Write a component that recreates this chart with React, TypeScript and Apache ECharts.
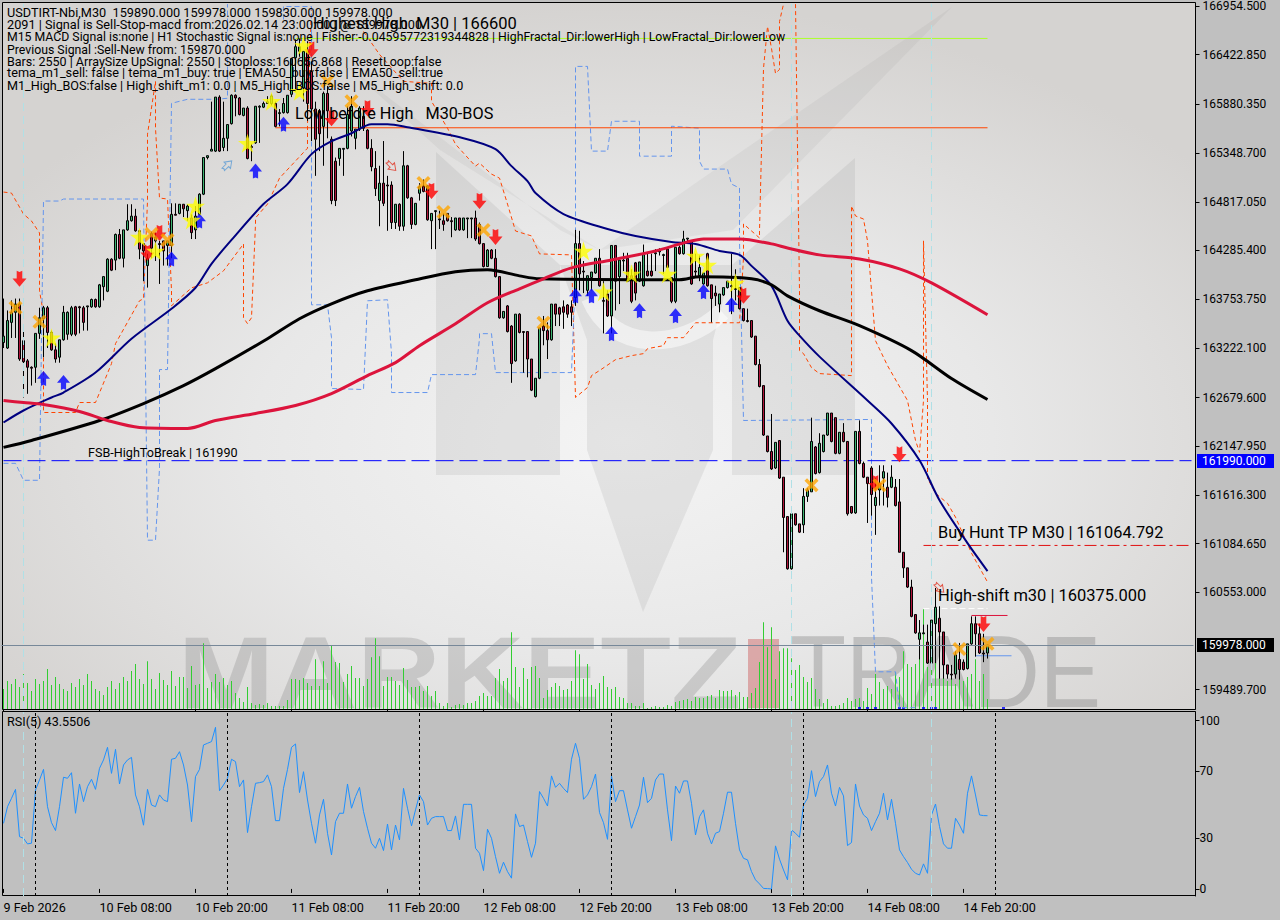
import React, { useEffect, useRef } from "react";
import * as echarts from "echarts";

const tickLabels = ["9 Feb 2026","10 Feb 08:00","10 Feb 20:00","11 Feb 08:00","11 Feb 20:00","12 Feb 08:00","12 Feb 20:00","13 Feb 08:00","13 Feb 20:00","14 Feb 08:00","14 Feb 20:00"];
const priceTicks = [166954.5,166422.85,165880.35,165348.7,164817.05,164285.4,163753.75,163222.1,162679.6,162147.95,161616.3,161084.65,160553,159489.7];
const rsiTicks = [0,30,70,100];

const opens = [163280,163220,163500,163610,163700,163300,163080,163010,163010,163380,
163540,163660,163390,163200,163120,163310,163370,163370,163670,163670,
163660,163670,163670,163750,163670,163890,163840,164190,164180,164460,
164200,164510,164610,164660,164500,164360,164120,164470,164390,164360,
164390,164340,164340,164680,164690,164790,164720,164640,164510,164680,
164900,165300,165370,165370,165960,165410,165510,165670,165980,165950,
165760,165840,165420,165460,165850,165850,165890,165890,165890,165780,
165790,165790,165990,166390,166460,166060,166460,166240,165830,165810,
165640,166000,165500,165260,165290,165390,165400,165590,165510,165610,
165750,165600,165400,165180,164830,165020,165000,165000,164590,164790,
164550,165210,164860,164570,164910,164990,164990,164610,164710,164630,
164610,164690,164610,164510,164640,164510,164630,164630,164640,164570,
164360,164110,164290,164200,164000,163550,163680,163460,163080,163590,
163400,163400,163100,162690,162890,163460,163410,163310,163700,163660,
163670,163690,163670,163770,164360,164060,163850,163990,164040,164200,
163740,163810,163570,164340,164000,164170,164200,164010,164150,163950,
163900,164060,164060,164250,164270,164230,164300,163990,163730,164320,
164250,164410,164390,164060,164010,163920,164250,163910,163820,163700,
163800,163880,163890,163860,163880,163650,163520,163520,163350,163040,
162810,162260,162090,161910,162210,161810,161380,160810,161410,161300,
161290,161600,161650,162140,161860,162090,162270,162510,162460,162070,
162300,162200,161490,161420,162310,161960,161810,161910,161500,161670,
161800,161700,161700,161700,161540,160990,160820,160610,160310,160040,
160100,160010,159780,160210,160270,160120,159760,159660,159660,159820,
159790,159720,159990,160210,160100,159890,159890];

const closes = [163350,163520,163610,163700,163100,163070,163010,163000,163380,163550,
163660,163390,163200,163100,163310,163610,163610,163660,163370,163660,
163500,163680,163750,163670,163910,164000,164190,164070,164460,164200,
164510,164610,164660,164500,164300,164280,164200,164310,164430,164350,
164280,164390,164680,164670,164790,164740,164770,164480,164660,164900,
165300,165320,165390,165960,165370,165510,165660,165980,165950,165770,
165840,165290,165410,165860,165860,165890,165910,165970,165640,165790,
165890,165980,166380,166510,166510,166460,165890,165830,165500,165560,
166000,165810,164830,164830,165400,165400,165770,165860,165610,165840,
165620,165400,165200,164960,165020,164800,164990,164590,164790,164550,
165210,164860,164570,164800,164980,164930,164620,164690,164720,164620,
164570,164610,164600,164640,164510,164640,164640,164640,164410,164360,
164110,164290,164200,164000,163550,163620,163400,163050,163590,163390,
163390,163100,162760,162890,163440,163410,163310,163700,163590,163590,
163610,163590,163610,164360,164030,164050,164010,164050,164200,163900,
163730,163570,164340,163950,164180,164180,163950,163730,163820,164160,
164240,164010,164010,164260,164280,164240,164100,163730,164320,164250,
164410,164420,163920,164050,164100,164040,163900,163760,163790,163810,
163880,163950,163900,163870,163650,163520,163510,163340,163040,162800,
162270,162090,161900,162190,161800,161370,160810,161410,161290,161210,
161600,161670,162200,161850,162180,162270,162510,162200,162070,162300,
162200,161410,161420,162310,161960,161810,161740,161620,161590,161740,
161870,161590,161810,161500,160990,160820,160610,160290,160110,160110,
160110,159780,160250,160390,160120,159760,159660,159650,159870,159710,
159710,159990,160210,160100,159890,159880,159978];

const highs = [163760,163630,163740,163760,163760,163430,163100,163020,163380,163660,
163680,163680,163410,163270,163310,163680,163620,163680,163680,163680,
163680,163680,163760,163760,163920,164000,164200,164200,164470,164520,
164510,164790,164790,164740,164500,164360,164250,164490,164480,164390,
164390,164390,164800,164800,164790,164790,164790,164680,164770,164910,
165300,165320,165910,165960,165980,165910,165660,165990,165990,165960,
165840,165860,165450,165860,165870,165910,165970,165990,165910,165830,
165950,165980,166380,166590,166600,166460,166570,166350,165910,165830,
166020,166080,165530,165300,165400,165400,165860,165970,165610,165860,
165860,165610,165500,165370,165210,165480,165100,165040,164790,164800,
165370,165220,164870,164800,165020,165060,165000,164690,164720,164720,
164690,164690,164650,164640,164640,164640,164640,164640,164720,164590,
164360,164300,164300,164300,164000,163620,163690,163470,163590,163600,
163400,163400,163100,162890,163440,163570,163500,163700,163700,163670,
163740,163700,163740,164510,164500,164170,164010,164050,164200,164300,
163950,163850,164340,164340,164180,164260,164260,164080,164160,164160,
164350,164260,164250,164300,164310,164250,164310,163990,164320,164340,
164500,164420,164390,164250,164230,164040,164260,163910,163900,163810,
163880,163950,164250,164080,163880,163650,163650,163520,163350,163100,
162810,162260,162500,162190,162210,161810,161380,161410,161410,161300,
161690,161690,162460,162150,162290,162270,162510,162510,162460,162300,
162400,162200,161490,162310,162430,161980,161810,161930,161800,161940,
161940,161860,161940,161790,161790,160990,160820,160690,160310,160250,
160200,160200,160250,160600,160400,160120,159760,159760,159910,160000,
159820,159990,160290,160290,160210,160100,159978];

const lows = [163220,163210,163330,163330,163080,162680,162720,162810,162840,163320,
163120,163220,163190,163060,163060,163300,163310,163350,163350,163380,
163410,163410,163660,163660,163660,163740,163830,164060,164070,164190,
164100,164500,164600,164490,164190,163950,163880,164200,164170,163920,
164120,164120,164200,164670,164680,164650,164610,164410,164410,164670,
164890,165280,165370,165360,165360,165370,165370,165660,165750,165760,
165750,165280,165260,165450,165460,165840,165890,165870,165630,165640,
165780,165780,165960,166020,166400,165910,165700,165480,165100,165370,
165210,165510,164790,164770,165210,165100,165390,165530,165390,165590,
165590,165390,165150,164880,164550,164770,164500,164520,164520,164500,
164500,164850,164520,164560,164830,164920,164610,164300,164300,164520,
164500,164600,164430,164500,164500,164500,164420,164420,164390,164350,
164100,164110,164190,163990,163540,163540,163390,162840,163070,163380,
162950,162900,162750,162680,162880,163250,163100,163300,163460,163460,
163430,163550,163460,163680,163850,163820,163790,163850,164030,163890,
163380,163560,163380,163630,163700,164060,163940,163710,163740,163940,
163890,164000,164000,164060,164230,164030,164090,163710,163710,164240,
164240,164360,163910,163990,163950,163910,163890,163500,163680,163610,
163790,163870,163590,163740,163640,163510,163500,163330,163030,162790,
162260,162080,161890,161900,161790,160990,160800,160800,161280,161200,
161200,161540,161650,161840,161850,162080,162260,162190,162060,162060,
162190,161390,161410,161410,161950,161800,161310,161390,161180,161500,
161500,161480,161690,161490,160990,160710,160600,160280,160100,159820,
160100,159770,159770,159780,159610,159610,159610,159600,159610,159600,
159700,159710,159980,159850,159880,159790,159830];

const volumes = [20,28,25,30,22,35,26,18,30,25,28,40,24,32,25,20,18,26,22,30,
24,35,28,20,18,14,22,28,20,26,32,28,38,45,30,25,48,30,20,36,
29,24,38,23,32,32,21,43,24,25,
66,21,27,35,27,31,24,28,16,11,
7,22,6,4,5,4,6,3,3,3,
3,9,30,30,29,31,26,23,50,23,
48,26,64,47,46,27,35,43,31,31,
23,30,52,71,53,23,32,32,28,24,
41,29,22,22,23,18,23,13,18,6,
3,6,2,4,5,4,6,6,8,13,
16,13,13,31,40,28,31,77,42,22,
41,30,42,43,31,11,19,22,26,23,
19,20,28,59,55,30,45,24,20,26,
33,22,20,22,12,11,6,6,3,3,
6,1,2,3,2,2,4,3,7,8,
9,10,8,12,11,11,13,14,11,19,
18,18,19,14,17,12,12,16,21,47,
87,62,82,30,58,61,61,51,39,44,
32,27,31,20,10,6,10,3,3,4,
6,11,8,10,11,8,21,15,35,27,
20,23,20,37,32,58,45,42,45,75,
100,42,55,88,70,48,28,32,25,32,
28,32,35,50,28,35,10];

const rsiValues = [39.0,48.9,53.9,59.2,31.1,30.1,26.8,27.2,58.8,64.8,
71.1,48.9,39.4,34.7,48.9,66.4,65.8,69.1,45.0,62.4,
51.9,60.8,65.2,59.2,71.7,76.7,84.2,68.7,83.0,62.4,
73.7,76.7,78.2,55.9,48.9,37.9,59.2,49.9,48.9,55.9,
52.9,51.9,77.1,77.7,81.6,73.7,61.8,40.0,66.8,71.1,
85.6,86.6,87.6,96.1,58.4,61.8,65.8,77.1,75.7,60.8,
64.8,33.5,48.9,62.8,63.2,63.8,67.8,60.8,40.6,40.6,
59.8,71.1,84.2,86.2,57.3,69.7,52.9,39.0,27.2,44.0,
53.3,33.1,20.2,40.0,45.0,45.0,62.4,48.0,54.9,60.4,
46.0,36.1,27.2,24.2,30.1,22.8,38.6,23.2,38.0,29.1,
59.8,48.0,37.5,47.0,55.9,51.9,38.0,42.0,43.0,43.0,
43.0,34.7,34.7,43.4,29.1,50.3,50.3,50.3,24.2,21.2,
10.9,35.5,30.1,19.2,9.3,15.9,10.3,6.4,44.6,37.1,
38.0,28.2,18.8,27.2,57.9,53.9,49.3,67.2,60.4,62.8,
59.8,57.3,77.1,86.6,77.7,53.3,55.9,60.8,68.3,45.4,
39.4,29.5,67.2,51.9,58.4,58.4,47.0,36.1,43.0,49.9,
66.4,51.3,53.9,64.8,68.3,68.3,47.0,28.7,61.2,56.9,
64.2,64.2,50.9,32.1,43.0,47.0,33.1,26.8,33.1,34.1,
45.0,57.5,57.5,39.0,23.2,18.2,17.3,10.3,5.4,3.0,
0.3,0.2,0.0,25.6,17.7,11.3,5.4,35.1,33.1,30.7,
49.9,53.9,70.3,54.9,63.8,66.8,73.7,56.9,49.3,60.4,
55.3,25.8,27.6,62.4,49.3,44.0,42.0,34.7,40.0,45.0,
56.9,41.0,53.3,39.0,23.2,19.2,15.7,11.7,9.3,8.3,
14.9,9.3,44.0,50.5,37.1,26.8,24.2,24.2,42.0,38.0,
33.1,56.9,67.2,55.9,44.0,43.6,43.55];

const emaNavy = [[0,162407],[5,162538],[12,162680],[15,162734],[23,162952],[32,163322],[42,163649],[48,163878],[52,164139],[57,164400],[65,164792],[71,165010],[77,165337],[82,165478],[87,165565],[92,165663],[96,165663],[101,165631],[115,165511],[123,165391],[127,165206],[131,165043],[133,164912],[140,164683],[151,164520],[158,164444],[167,164379],[173,164357],[179,164280],[184,164237],[187,164117],[192,163899],[196,163518],[199,163355],[204,163126],[216,162647],[222,162396],[229,161994],[234,161558],[241,161090],[246,160785]];
const emaBlack = [[0,162135],[7,162211],[24,162429],[35,162614],[45,162810],[53,162995],[66,163322],[74,163540],[82,163703],[91,163845],[103,163965],[113,164052],[121,164074],[129,164008],[134,163976],[169,163965],[174,163997],[187,163976],[192,163910],[196,163790],[204,163627],[214,163464],[227,163192],[237,162887],[246,162658]];
const emaCrimson = [[0,162647],[5,162625],[10,162603],[19,162527],[26,162429],[34,162353],[46,162342],[53,162429],[63,162505],[73,162593],[82,162723],[91,162919],[98,163061],[104,163246],[113,163485],[121,163714],[129,163867],[135,163976],[142,164095],[152,164182],[163,164280],[171,164379],[175,164411],[184,164411],[192,164357],[196,164313],[204,164237],[214,164193],[224,164085],[232,163932],[246,163584]];

const orangeA = [[0,164923],[2,164912],[5,164683],[7,164607],[9,164477],[9,163845],[10,163594],[10,162516],[18,162516],[19,162625],[23,162625],[27,163050],[28,163268],[34,163736],[35,163758],[36,164825],[36,165555],[38,166132],[38,165620],[39,164858],[41,164847],[42,163845],[42,163682],[47,163877],[51,163932],[55,164063],[60,164357],[60,163551],[61,163486],[62,163551],[63,164575],[63,164640],[66,164792],[69,165075],[76,165402],[76,165664],[77,166970]];
const orangeB = [[90,166676],[94,166426],[100,166132],[107,166110],[107,165914],[111,165620],[113,165446],[115,165348],[118,165206],[119,165239],[122,165119],[124,165075],[126,164792],[128,164498],[132,164444],[134,164248],[142,164237],[143,162680],[146,162789],[147,162919],[149,162974],[153,163093],[157,163137],[160,163159],[161,163213],[165,163246],[166,163333],[170,163333],[173,163496],[184,163496],[185,164204],[185,164575],[189,164422],[189,164498],[190,166273],[191,166731],[192,166491],[193,166219],[194,166262],[194,166785],[195,166975]];
const orangeC = [[198,166975],[199,163845],[199,163192],[200,163159],[202,163006],[204,162941],[212,162919],[212,164771],[213,164662],[215,164629],[216,164390],[218,163300],[221,163028],[226,162647],[228,162211],[229,162081],[230,162647],[230,164390],[231,162647],[231,161798],[233,161634],[236,161525],[238,161373],[242,160981],[246,160665]];

const blueA = [[0,161961],[3,161961],[5,161776],[9,161776],[10,164825],[14,164825],[15,164847],[35,164847],[36,161122],[38,161122],[39,161906],[39,162985],[41,162985],[42,165892],[46,165936],[53,165936],[56,165947],[56,166975]];
const blueB = [[70,166807],[70,166949],[77,166949],[77,163692],[81,163692],[82,163333],[82,162778],[90,162767],[91,163736],[96,163747],[97,163159],[97,162734],[106,162734],[107,162930],[118,162930],[119,163322],[119,163377],[122,163377],[123,162952],[142,162952],[143,164030],[143,166295],[146,166295],[147,165370],[151,165370],[152,165696],[159,165696],[159,165315],[167,165315],[167,165642],[174,165620],[174,165261],[175,165174],[181,165174],[182,165010],[184,164967],[184,164390],[185,162429],[217,162440],[217,160720],[218,159685],[223,159685],[224,159293],[228,159293]];

const highestHighLine = [[73,166600],[246,166600]];
const lowBeforeLine = [[68,165625],[246,165625]];
const buyHuntLine = [[230,161064.792],[297,161064.792]];
const highShiftLine = [[230,160375],[246,160375]];
const crimsonShort = [[242,160300],[251,160300]];
const blueShort = [[243,159860],[252,159860]];
const breakLine = [[0,161990],[297,161990]];
const bidPrice = 159978;

const redArrows = [[4,163976],[36,164259],[39,164477],[77,166480],[82,165729],[91,165838],[107,164934],[119,164825],[123,164433],[185,163790],[218,161743],[224,162059],[245,160208]];
const blueArrows = [[10,162887],[15,162843],[42,164193],[49,164607],[63,165152],[70,165664],[143,163790],[147,163790],[152,163377],[159,163627],[168,163573],[175,163834],[182,163692]];
const stars = [[12,163333],[34,164433],[38,164280],[48,164771],[47,164618],[61,165457],[67,165914],[74,166023],[75,166524],[145,164280],[150,163834],[157,164030],[166,164030],[173,164226],[176,164128],[183,163932]];
const crosses = [[3,163660],[9,163507],[37,164466],[41,164400],[81,166132],[87,165914],[105,165021],[110,164705],[120,164509],[135,163496],[202,161721],[219,161721],[239,159935],[246,159990]];
const hollowBlue = [[56,165217]];
const hollowRed = [[97,165206],[234,160600]];
const blueTicks = [[214,1],[216,1],[218,1],[224,1],[225,1],[230,1],[232,1],[233,1],[250,1]];

const cyanVerticals = [5,197,232];
const blackVerticals = [8,56,104,152,200,248];

const headerLines = [
  "USDTIRT-Nbi,M30  159890.000 159978.000 159830.000 159978.000",
  "2091 | Signal is Sell-Stop-macd from:2026.02.14 23:00:00 | @ 159978.000",
  "M15 MACD Signal is:none | H1 Stochastic Signal is:none | Fisher:-0.04595772319344828 | HighFractal_Dir:lowerHigh | LowFractal_Dir:lowerLow",
  "Previous Signal :Sell-New from: 159870.000",
  "Bars: 2550 | ArraySize UpSignal: 2550 | Stoploss:160656.868 | ResetLoop:false",
  "tema_m1_sell: false | tema_m1_buy: true | EMA50_buy:false | EMA50_sell:true",
  "M1_High_BOS:false | High_shift_m1: 0.0 | M5_High_BOS:false | M5_High_shift: 0.0",
];
const headerY = [13, 25, 37, 50, 62, 73, 86];
const headerScale = [1.06, 1.06, 1.023, 1.025, 1.043, 1.058, 1.05];

const FONT = "Roboto";
const STAR = "path://M50 0 L61 35 L98 35 L68 57 L79 91 L50 70 L21 91 L32 57 L2 35 L39 35 Z";
const DOWN = "path://M30 0 L50 8 L70 0 V48 H100 L50 100 L0 48 H30 Z";
const UP = "path://M50 0 L100 52 H70 V100 L50 92 L30 100 V52 H0 Z";
const CROSS = "path://M18 0 L50 32 L82 0 L100 18 L68 50 L100 82 L82 100 L50 68 L18 100 L0 82 L32 50 L0 18 Z";

function seg(name: string, data: number[][], color: string, width: number, dash?: any, z = 3, smooth: any = false) {
  return {
    name, type: "line", xAxisIndex: 0, yAxisIndex: 0, data, symbol: "none", showSymbol: false, silent: true, z, smooth,
    lineStyle: { color, width, type: dash || "solid" },
  };
}
function marks(name: string, data: number[][], symbol: string, size: any, color: string, extra: any = {}) {
  return {
    name, type: "scatter", xAxisIndex: 0, yAxisIndex: 0, data, symbol, symbolSize: size, silent: true, z: 6,
    itemStyle: { color, ...(extra.itemStyle || {}) }, symbolRotate: extra.rotate || 0,
  };
}
function label(text: string, x: number, y: number, size = 16, scaleX = 1, extra: any = {}) {
  return {
    type: "text", x, y, z: 20, silent: true, scaleX,
    style: { text, fill: "#000", font: `${size}px ${FONT}`, verticalAlign: "middle", align: "left", ...extra },
  };
}

export default function App() {
  const ref = useRef<HTMLDivElement>(null);
  useEffect(() => {
    document.body.style.margin = "0";
    document.body.style.background = "#c0c0c0";
    const chart = echarts.init(ref.current!, undefined, { renderer: "svg" });
    const categories = Array.from({ length: 298 }, (_, i) => (i % 24 === 0 ? tickLabels[i / 24] ?? "" : ""));
    const tickOnly = (i: number) => i % 24 === 0 && i <= 240;
    const bg = new echarts.graphic.RadialGradient(0.52, 0.62, 0.62, [
      { offset: 0, color: "#f4f4f4" },
      { offset: 0.5, color: "#e8e8e8" },
      { offset: 1, color: "#d5d3d1" },
    ]);
    const mGray = "rgba(120,120,120,0.13)";
    const option: any = {
      animation: false,
      backgroundColor: "#c0c0c0",
      textStyle: { fontFamily: FONT },
      grid: [
        { left: 1.5, top: 2, width: 1192, height: 707 },
        { left: 1.5, top: 712, width: 1192, height: 184 },
      ],
      xAxis: [
        {
          type: "category", gridIndex: 0, data: categories, boundaryGap: true,
          axisLabel: { show: false },
          axisTick: { show: true, alignWithLabel: true, interval: tickOnly, length: 3, lineStyle: { color: "#000" } },
          axisLine: { show: false }, splitLine: { show: false },
        },
        {
          type: "category", gridIndex: 1, data: categories, boundaryGap: true,
          axisLabel: { show: true, interval: tickOnly, align: "left", color: "#000", fontSize: 12.6, margin: 5, fontFamily: FONT, hideOverlap: false },
          axisTick: { show: true, alignWithLabel: true, interval: tickOnly, length: 4, lineStyle: { color: "#000" } },
          axisLine: { show: false }, splitLine: { show: false },
        },
      ],
      yAxis: [
        {
          type: "value", gridIndex: 0, position: "right", offset: 2, min: 159278.8, max: 166978,
          axisLine: { show: true, onZero: false, lineStyle: { color: "#000" } },
          axisTick: { show: true, length: 4, inside: false, customValues: priceTicks, lineStyle: { color: "#000" } },
          axisLabel: { show: true, color: "#000", fontSize: 12, margin: 7, fontFamily: FONT, customValues: priceTicks, formatter: (v: number) => v.toFixed(3), showMinLabel: true, showMaxLabel: true },
          splitLine: { show: false },
        },
        { type: "value", gridIndex: 0, min: 0, max: 707, show: false },
        {
          type: "value", gridIndex: 1, position: "right", offset: 2, min: -4.2, max: 105.2,
          axisLine: { show: true, onZero: false, lineStyle: { color: "#000" } },
          axisTick: { show: true, length: 4, customValues: rsiTicks, lineStyle: { color: "#000" } },
          axisLabel: { show: true, color: "#000", fontSize: 12, margin: 4, fontFamily: FONT, customValues: rsiTicks },
          splitLine: { show: false },
        },
      ],
      graphic: [
        { type: "rect", z: 0, silent: true, shape: { x: 2.5, y: 2.5, width: 1193, height: 707 }, style: { fill: bg, stroke: "#000", lineWidth: 1 } },
        { type: "rect", z: 0, silent: true, shape: { x: 2.5, y: 711.5, width: 1193, height: 184 }, style: { fill: "#c0c0c0", stroke: "#000", lineWidth: 1 } },
        { type: "polygon", z: 0, silent: true, shape: { points: [[436, 152], [560, 265], [560, 475], [436, 475]] }, style: { fill: mGray } },
        { type: "polygon", z: 0, silent: true, shape: { points: [[855, 158], [732, 265], [732, 475], [855, 475]] }, style: { fill: mGray } },
        { type: "polygon", z: 0, silent: true, shape: { points: [[560, 265], [732, 265], [713, 340], [713, 450], [643, 612], [587, 450], [587, 340]] }, style: { fill: mGray } },
        { type: "polygon", z: 0, silent: true, shape: { points: [[952, 7], [700, 180], [600, 250], [733, 230]] }, style: { fill: "rgba(120,120,120,0.08)" } },
        { type: "polygon", z: 0, silent: true, shape: { points: [[340, 60], [560, 230], [600, 250], [440, 150]] }, style: { fill: "rgba(120,120,120,0.08)" } },
        { type: "bezierCurve", z: 0, silent: true, shape: { x1: 590, y1: 298, cpx1: 612, cpy1: 352, cpx2: 680, cpy2: 352, x2: 722, y2: 312 }, style: { stroke: "rgba(255,255,255,0.5)", lineWidth: 18, fill: "none" } },
        { type: "rect", z: 0, silent: true, shape: { x: 748, y: 639, width: 31, height: 69 }, style: { fill: "rgba(205,92,92,0.45)" } },
        { type: "text", z: 1, silent: true, x: 178, y: 672, scaleX: 1.13, style: { text: "MARKETZ", fill: "rgba(140,140,140,0.32)", font: `bold 102px "Liberation Sans"`, verticalAlign: "middle" } },
        { type: "text", z: 1, silent: true, x: 790, y: 672, scaleX: 0.9, style: { text: "TRADE", fill: "rgba(130,130,130,0.38)", font: `102px "Liberation Sans"`, verticalAlign: "middle" } },
        ...headerLines.map((t, i) => label(t, 7, headerY[i], 12, headerScale[i])),
        label("Highest High  M30 | 166600", 313, 24, 16, 1.03),
        label("Low before High   M30-BOS", 295, 114, 16, 1.015),
        label("Buy Hunt TP M30 | 161064.792", 938, 533, 16, 1.022),
        label("High-shift m30 | 160375.000", 938, 596, 16, 1.03),
        label("FSB-HighToBreak | 161990", 88, 453, 12, 1.05),
        label("RSI(5) 43.5506", 7, 722, 12, 1.05),
        { type: "rect", z: 19, silent: true, shape: { x: 1197, y: 454, width: 77, height: 14 }, style: { fill: "#0000ff" } },
        label("161990.000", 1202, 461, 12, 1, { fill: "#fff" }),
        { type: "rect", z: 19, silent: true, shape: { x: 1197, y: 638, width: 77, height: 14 }, style: { fill: "#000" } },
        label("159978.000", 1202, 645, 12, 1, { fill: "#fff" }),
      ],
      series: [
        {
          name: "volume", type: "bar", xAxisIndex: 0, yAxisIndex: 1, data: volumes, barWidth: 1, silent: true, z: 2,
          itemStyle: { color: "#32cd32" },
        },
        {
          name: "blue volume", type: "scatter", xAxisIndex: 0, yAxisIndex: 1, data: blueTicks, symbol: "rect", symbolSize: [3, 2], silent: true, z: 2,
          itemStyle: { color: "#0000ff" },
        },
        {
          name: "guides", type: "line", xAxisIndex: 0, yAxisIndex: 0, data: [], silent: true, z: 2,
          markLine: {
            silent: true, symbol: "none", animation: false, label: { show: false },
            data: [
              ...cyanVerticals.map((v) => ({ xAxis: v, lineStyle: { color: "#b0e0e6", width: 1, type: [8, 5] } })),
              { yAxis: bidPrice, lineStyle: { color: "#778899", width: 1, type: "solid" } },
            ],
          },
        },
        seg("orange a", orangeA, "#ff4500", 1, [4, 3]),
        seg("orange b", orangeB, "#ff4500", 1, [4, 3]),
        seg("orange c", orangeC, "#ff4500", 1, [4, 3]),
        seg("blue a", blueA, "#6495ed", 1, [5, 3]),
        seg("blue b", blueB, "#6495ed", 1, [5, 3]),
        seg("highest high", highestHighLine, "#adff2f", 1),
        seg("low before high", lowBeforeLine, "#ff4500", 1),
        seg("buy hunt", buyHuntLine, "#e01010", 1, [12, 4, 3, 4]),
        seg("high shift", highShiftLine, "#ffffff", 1, [6, 3]),
        seg("crimson short", crimsonShort, "#dc143c", 1),
        seg("blue short", blueShort, "#6495ed", 1),
        seg("break line", breakLine, "#0000ff", 1, [18, 6]),
        {
          name: "candles", type: "candlestick", xAxisIndex: 0, yAxisIndex: 0, barWidth: 3, silent: true, z: 4,
          data: opens.map((o, i) => [o, closes[i], lows[i], highs[i]]),
          itemStyle: { color: "#3cb371", color0: "#b0133a", borderColor: "#000", borderColor0: "#000", borderColorDoji: "#000", borderWidth: 1 },
        },
        seg("ema navy", emaNavy, "#000080", 2, undefined, 5, 0.3),
        seg("ema black", emaBlack, "#000000", 3, undefined, 5, 0.3),
        seg("ema crimson", emaCrimson, "#dc143c", 3, undefined, 5, 0.3),
        marks("red arrows", redArrows, DOWN, [14, 16], "#ff0000"),
        marks("blue arrows", blueArrows, UP, [13, 15], "#0000ff"),
        marks("stars", stars, STAR, 19, "#ffff00"),
        marks("crosses", crosses, CROSS, 14, "#ffa500"),
        marks("hollow blue", hollowBlue, UP, [9, 12], "transparent", { rotate: -45, itemStyle: { borderColor: "#5b9bd5", borderWidth: 1 } }),
        marks("hollow red", hollowRed, DOWN, [9, 12], "transparent", { rotate: 45, itemStyle: { borderColor: "#e0301e", borderWidth: 1 } }),
        {
          name: "RSI(5)", type: "line", xAxisIndex: 1, yAxisIndex: 2, data: rsiValues, symbol: "none", showSymbol: false, silent: true, z: 4,
          lineStyle: { color: "#1e90ff", width: 1 },
          markLine: {
            silent: true, symbol: "none", animation: false, label: { show: false },
            data: [
              ...blackVerticals.map((v) => ({ xAxis: v, lineStyle: { color: "#000", width: 1, type: [3, 3] } })),
              ...cyanVerticals.map((v) => ({ xAxis: v, lineStyle: { color: "#b0e0e6", width: 1, type: [8, 5] } })),
            ],
          },
        },
      ],
    };
    chart.setOption(option);
    return () => chart.dispose();
  }, []);
  return <div ref={ref} style={{ width: 1280, height: 920 }} />;
}
